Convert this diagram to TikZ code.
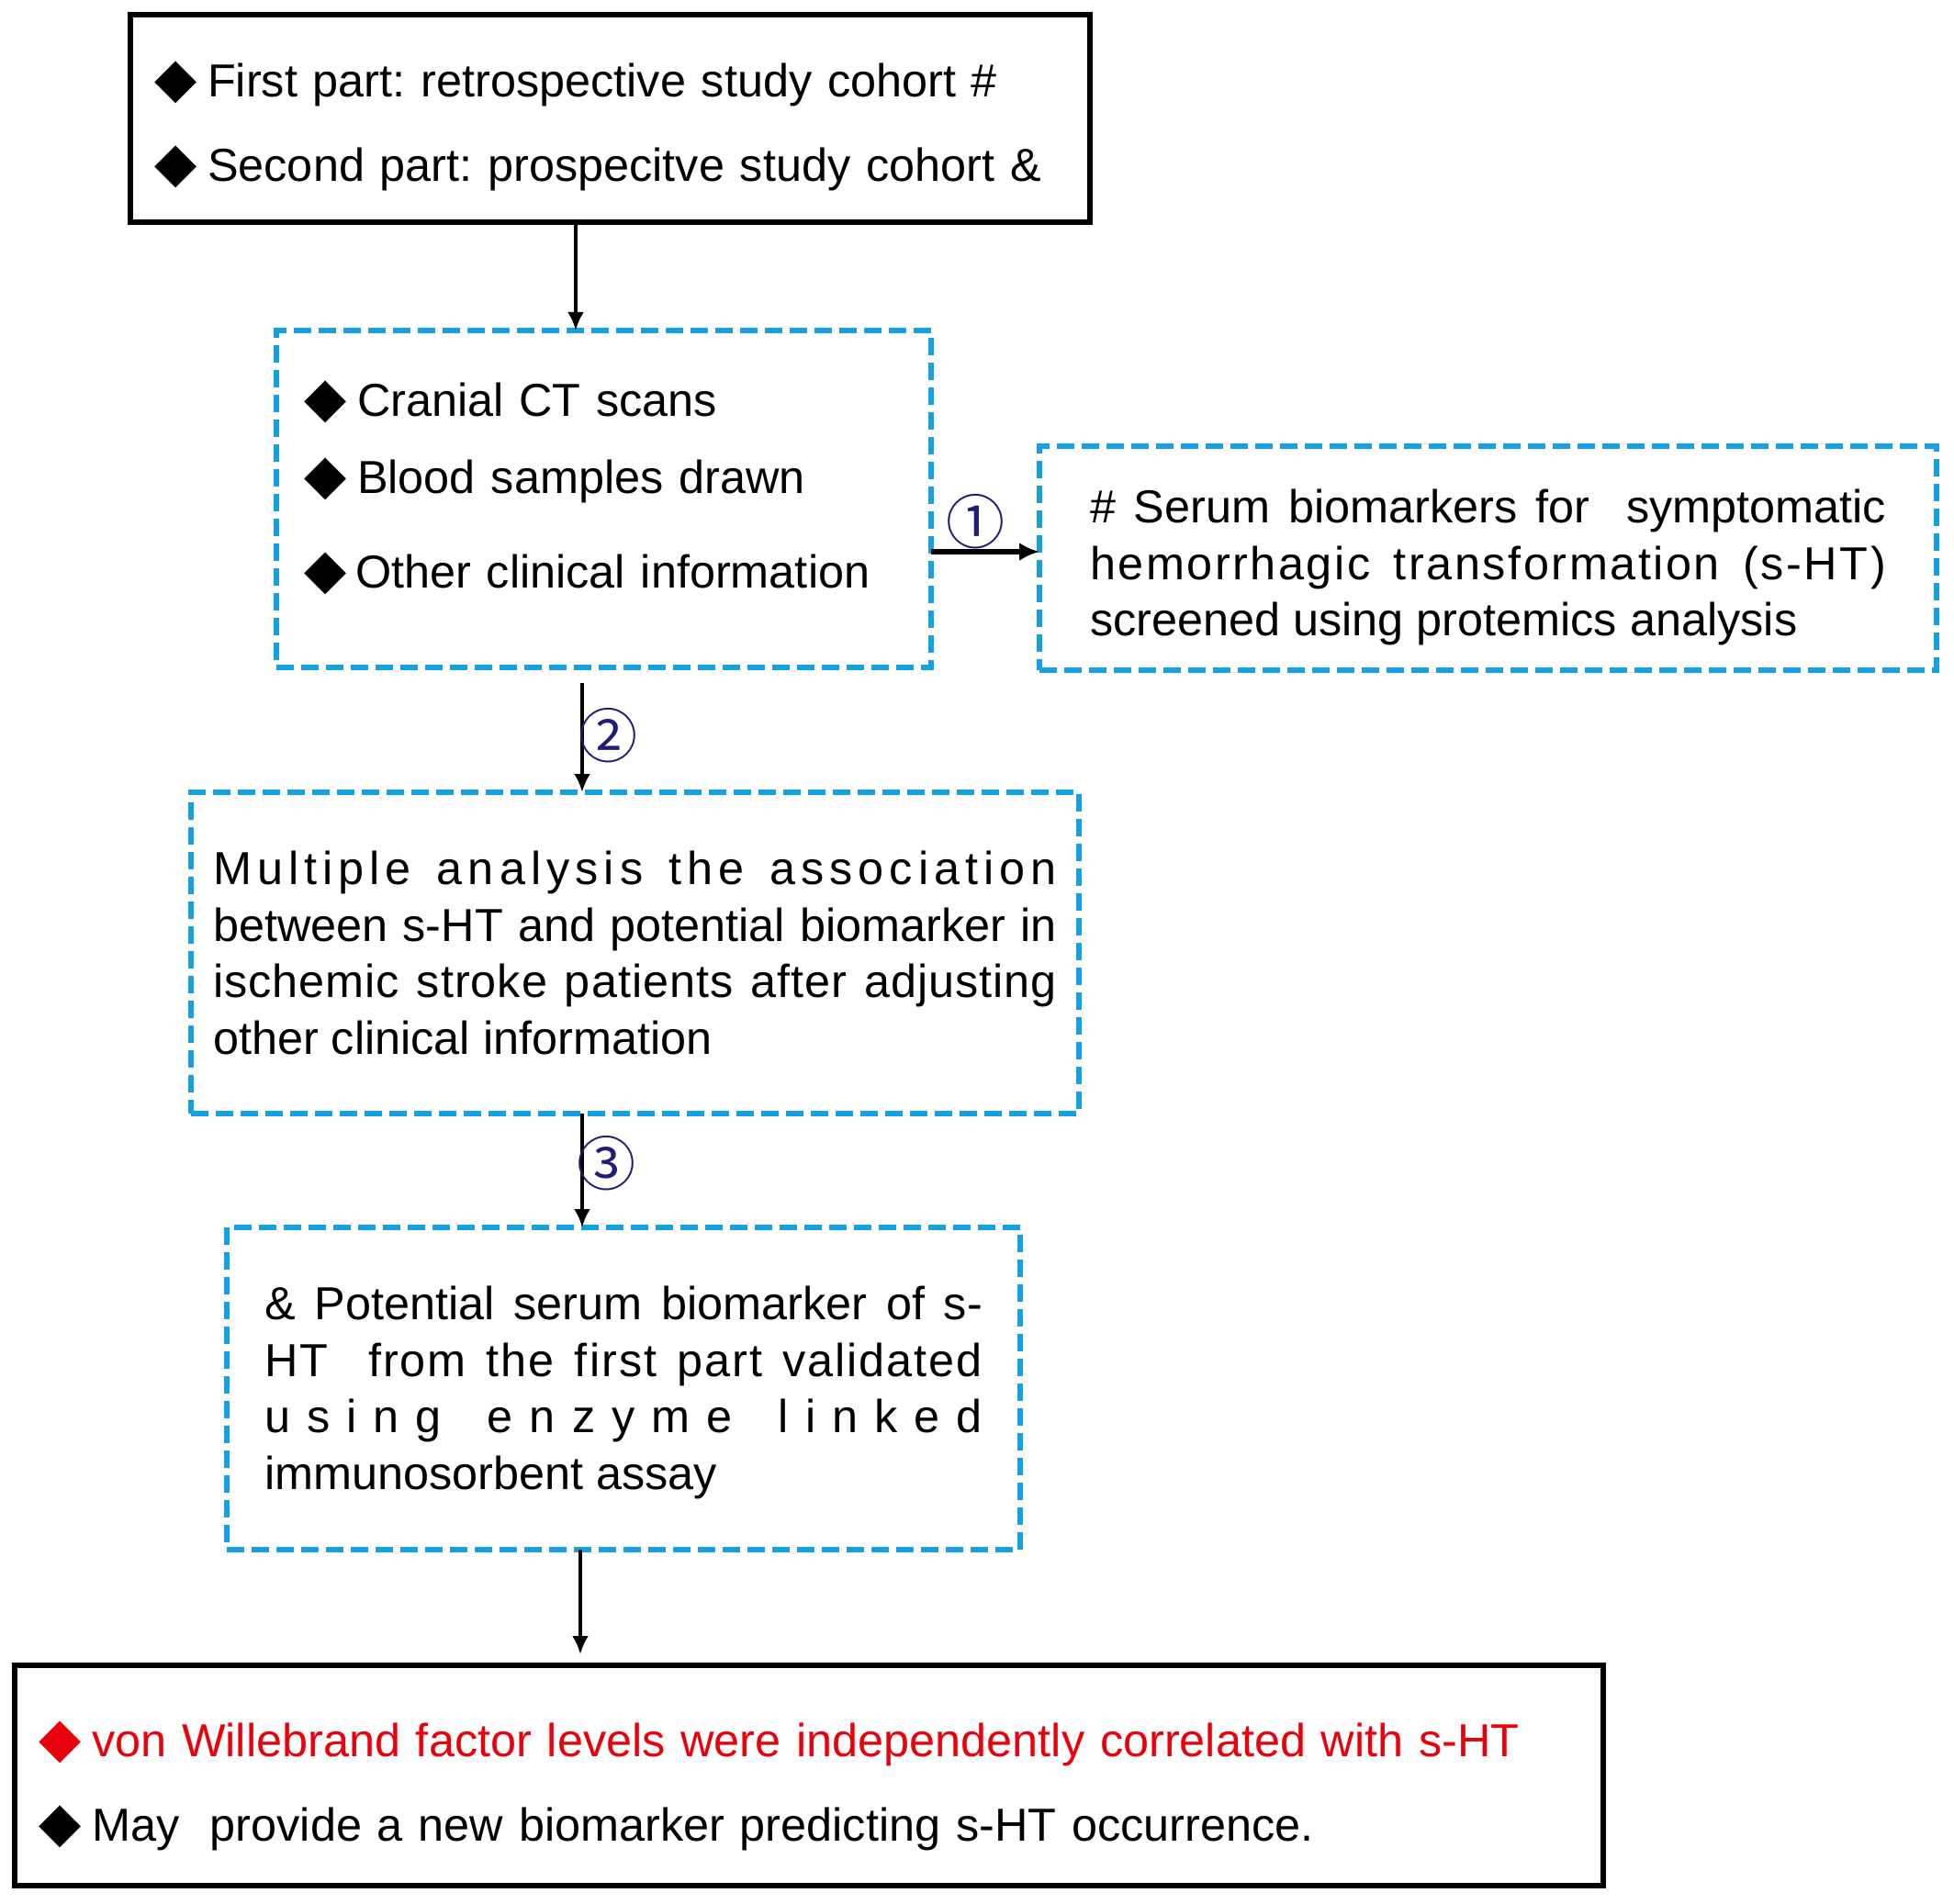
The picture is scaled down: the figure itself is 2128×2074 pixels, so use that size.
\documentclass[tikz,border=0pt]{standalone}
\usepackage{fontspec}
\setmainfont{Liberation Sans}
\newfontfamily\djv{DejaVu Sans}
\newfontfamily\cjk{Noto Sans CJK SC}
\usetikzlibrary{arrows.meta}
\definecolor{dashblue}{RGB}{20,160,225}
\definecolor{numblue}{RGB}{30,30,120}
\definecolor{vwfred}{RGB}{232,0,10}
\newcommand\dmd{{\djv\fontsize{15}{15}\selectfont ◆}}
\newcommand\toprule[1]{\rule{0pt}{#1}}
\newcommand\botrule[1]{\rule[-#1]{0pt}{0pt}}
\frenchspacing
\tikzset{
  basebox/.style={anchor=north west, inner ysep=0pt, outer sep=0pt},
  solidbox/.style={basebox, draw=black, line width=1.4pt, align=left},
  dbox/.style={basebox, draw=dashblue, line width=1.4pt, dash pattern=on 4.75pt off 2pt},
  arr/.style={-{Latex[length=5pt,width=4.5pt]}, line width=1pt, black},
  numlbl/.style={text=numblue, font=\cjk\fontsize{16}{16}\selectfont, inner sep=0pt}
}
\begin{document}
\begin{tikzpicture}[x=0.25pt,y=-0.25pt]
\useasboundingbox (0,0) rectangle (2128,2074);

% top box
\node[solidbox, minimum width=261.25pt, minimum height=56.5pt, text width=248.25pt, inner xsep=6.5pt,
      font=\fontsize{12.6}{23}\selectfont] (top) at (142,16)
  {\toprule{14pt}\dmd\hspace{3pt}First part: retrospective study cohort \#\\
   \dmd\hspace{3pt}Second part: prospecitve study cohort \&};

% box 2
\node[dbox, minimum width=178.25pt, minimum height=91.75pt, text width=163.25pt, inner xsep=7.5pt, align=left,
      font=\fontsize{12.6}{21}\selectfont] (box2) at (301,360)
  {\dmd\hspace{3pt}Cranial CT scans\\
   \dmd\hspace{3pt}Blood samples drawn\\[4.75pt]
   \dmd\hspace{2.5pt}Other clinical information\botrule{7.8pt}};

% box 3
\node[dbox, minimum width=244.25pt, minimum height=61pt, text width=216.75pt, inner xsep=13.75pt, align=justify,
      font=\fontsize{12.6}{15.4}\selectfont] (box3) at (1132,486)
  {\toprule{14.2pt}\# Serum biomarkers for\ \ symptomatic\linebreak
   {\addfontfeature{LetterSpace=5}hemorrhagic transformation (s-HT)}\linebreak
   screened using protemics analysis};

% box 4
\node[dbox, minimum width=241.75pt, minimum height=87.5pt, text width=229.75pt, inner xsep=6pt, align=justify,
      font=\fontsize{12.6}{15.4}\selectfont] (box4) at (208,863)
  {{\addfontfeature{LetterSpace=12}Multiple analysis the association}\linebreak
   between s-HT and potential biomarker in\linebreak
   {\addfontfeature{LetterSpace=2}ischemic stroke patients after adjusting}\linebreak
   other clinical information};

% box 5
\node[dbox, minimum width=216pt, minimum height=87.75pt, text width=195.5pt, inner xsep=10.25pt, align=justify,
      font=\fontsize{12.6}{15.4}\selectfont] (box5) at (247,1337)
  {\toprule{11.4pt}\& Potential serum biomarker of s-\linebreak
   {\addfontfeature{LetterSpace=4}HT\ \ from the first part validated}\linebreak
   \hbox to \linewidth{u\hfill s\hfill i\hfill n\hfill g\hfill\ \hfill e\hfill n\hfill z\hfill y\hfill m\hfill e\hfill\ \hfill l\hfill i\hfill n\hfill k\hfill e\hfill d}\linebreak
   immunosorbent assay};

% box 6
\node[solidbox, minimum width=432.5pt, minimum height=60pt, text width=419.5pt, inner xsep=6.5pt,
      font=\fontsize{12.6}{23}\selectfont] (box6) at (16,1814)
  {\toprule{15.2pt}\textcolor{vwfred}{\dmd\hspace{3pt}von Willebrand factor levels were independently correlated with s-HT}\\
   \dmd\hspace{3pt}May\ \ provide a new biomarker predicting s-HT occurrence.};

% connector positions
\coordinate (c1) at (627,0);
\coordinate (c2) at (634,0);
\coordinate (c4) at (632,0);
\coordinate (r1) at (0,601);

\draw[arr] (top.south -| c1) -- (box2.north -| c1);
\draw[arr, line width=1.3pt, -{Latex[length=5.5pt,width=5pt]}] (box2.east |- r1) -- (box3.west |- r1);
\draw[arr] ([yshift=-4.25pt]box2.south -| c2) -- (box4.north -| c2);
\draw[arr] (box4.south -| c2) -- (box5.north -| c2);
\draw[arr] (box5.south -| c4) -- ([yshift=3pt]box6.north -| c4);

\node[numlbl] (n1) at (1062,568) {①};
\node[numlbl] (n2) at (662,801) {②};
\node[numlbl] (n3) at (660,1267) {③};
\end{tikzpicture}
\end{document}
